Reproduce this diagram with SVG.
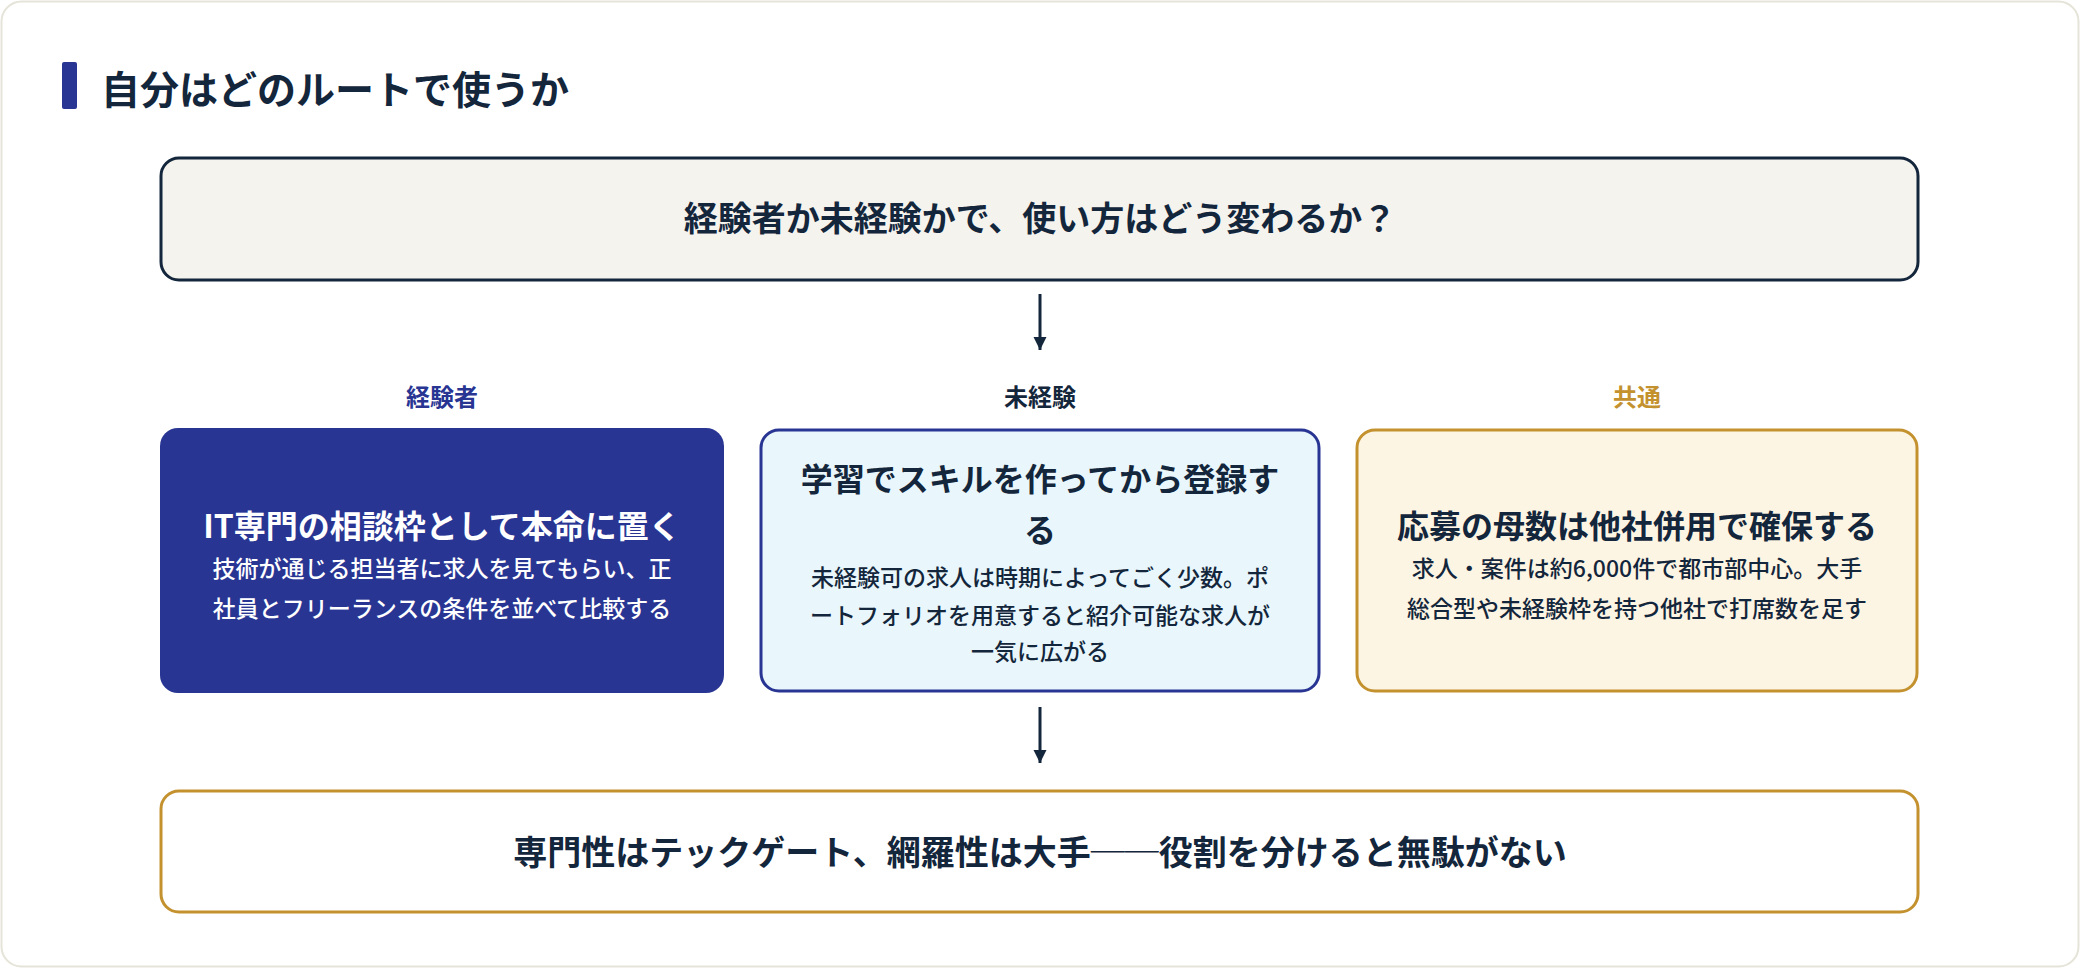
<svg xmlns="http://www.w3.org/2000/svg" width="2080" height="968" viewBox="0 0 2080 968">
<style>
text{font-family:"Noto Sans CJK JP","Noto Sans",sans-serif;text-anchor:middle;font-weight:700}
.d{fill:#13263b}.w{fill:#fff}.n{fill:#283593}.g{fill:#c4912f}
.s{font-size:23px;font-weight:500}
</style>
<defs><marker id="ah" viewBox="0 0 10 10" refX="10" refY="5" markerWidth="4.5" markerHeight="4.5" orient="auto"><path d="M0,0L10,5L0,10z" fill="#13263b"/></marker></defs>
<rect x="1.5" y="1.5" width="2077" height="965" rx="20" fill="#fff" stroke="#e6e3d8" stroke-width="2"/>
<rect x="62" y="62" width="15" height="47" rx="2" fill="#283593"/>
<text x="101" y="104" class="d" style="text-anchor:start;font-size:39px">自分はどのルートで使うか</text>
<g id="top"><rect x="161" y="158" width="1757" height="122" rx="18" fill="#f5f3ee" stroke="#13263b" stroke-width="3"/>
<text x="1040" y="231" class="d" font-size="34">経験者か未経験かで、使い方はどう変わるか？</text></g>
<g id="connectors" stroke="#13263b" stroke-width="3">
<line x1="1040" y1="294" x2="1040" y2="350" marker-end="url(#ah)"/>
<line x1="1040" y1="707" x2="1040" y2="763" marker-end="url(#ah)"/></g>
<text x="442" y="406" class="n" font-size="24">経験者</text>
<text x="1040" y="406" class="d" font-size="24">未経験</text>
<text x="1637" y="406" class="g" font-size="24">共通</text>
<g id="exp"><rect x="160" y="428" width="564" height="265" rx="18" fill="#283593"/>
<text x="442" y="538" class="w" font-size="32">IT専門の相談枠として本命に置く</text>
<text x="442" y="577" class="w s">技術が通じる担当者に求人を見てもらい、正</text>
<text x="442" y="617" class="w s">社員とフリーランスの条件を並べて比較する</text></g>
<g id="noexp"><rect x="761" y="430" width="558" height="261" rx="18" fill="#e9f7fc" stroke="#283593" stroke-width="3"/>
<text x="1040" y="491" class="d" font-size="32">学習でスキルを作ってから登録す</text>
<text x="1040" y="542" class="d" font-size="32">る</text>
<text x="1040" y="586" class="d s">未経験可の求人は時期によってごく少数。ポ</text>
<text x="1040" y="624" class="d s">ートフォリオを用意すると紹介可能な求人が</text>
<text x="1040" y="660" class="d s">一気に広がる</text></g>
<g id="common"><rect x="1357" y="430" width="560" height="261" rx="18" fill="#fdf5e4" stroke="#c4912f" stroke-width="3"/>
<text x="1637" y="538" class="d" font-size="32">応募の母数は他社併用で確保する</text>
<text x="1637" y="577" class="d s">求人・案件は約6,000件で都市部中心。大手</text>
<text x="1637" y="617" class="d s">総合型や未経験枠を持つ他社で打席数を足す</text></g>
<g id="bottom"><rect x="161" y="791" width="1757" height="121" rx="18" fill="#fff" stroke="#c4912f" stroke-width="3"/>
<text x="1040" y="865" class="d" font-size="34">専門性はテックゲート、網羅性は大手──役割を分けると無駄がない</text></g>
</svg>
